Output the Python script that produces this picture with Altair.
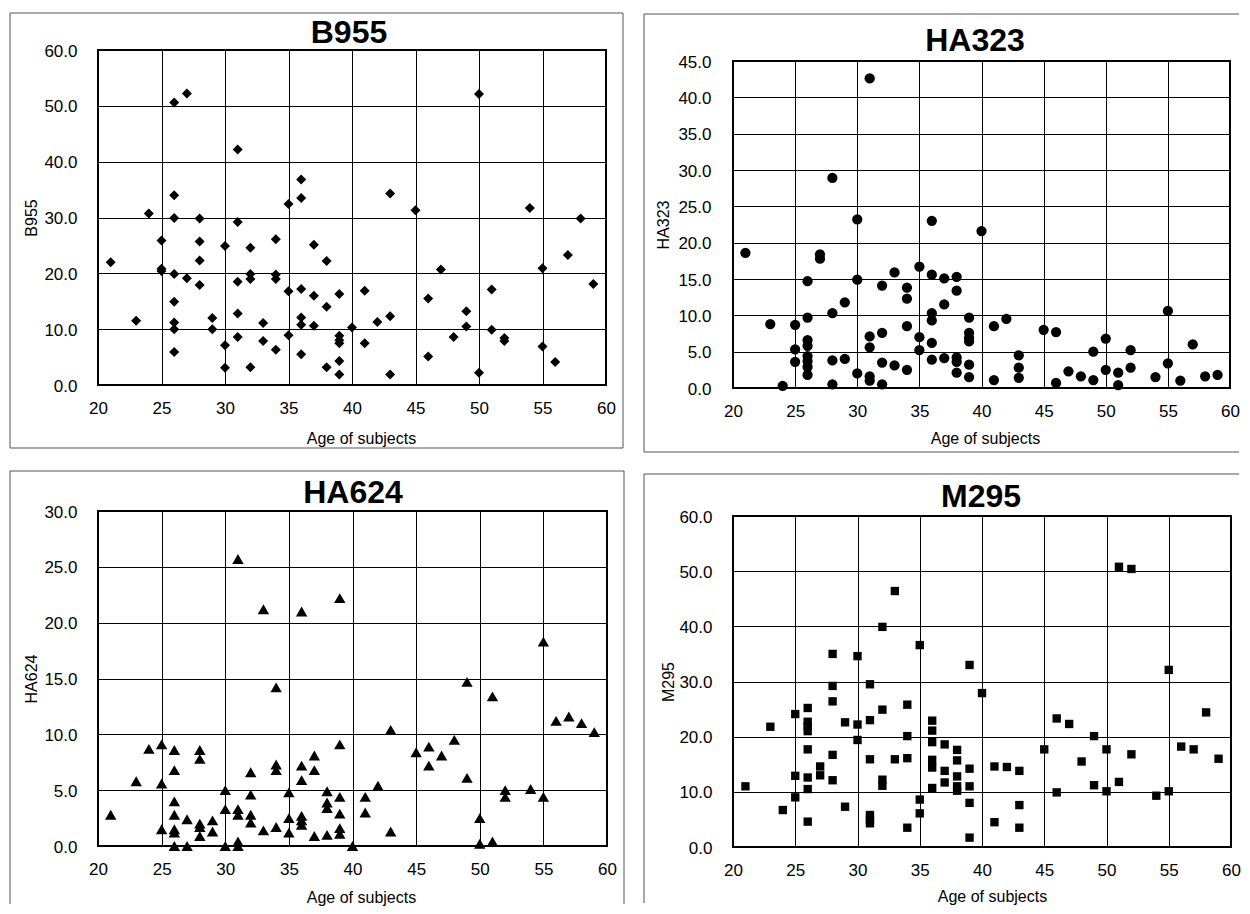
import altair as alt
import pandas as pd

X_TITLE = "Age of subjects"
X_TICKS = [20, 25, 30, 35, 40, 45, 50, 55, 60]

# ---------------- B955 ----------------
b955_age = [21, 23, 24, 25, 25, 25,
            26, 26, 26, 26, 26, 26, 26, 26,
            27, 27, 28, 28, 28, 28, 29, 29, 30, 30, 30,
            31, 31, 31, 31, 31, 32, 32, 32, 32, 33, 33,
            34, 34, 34, 34, 35, 35, 35,
            36, 36, 36, 36, 36, 36, 37, 37, 37, 38, 38, 38,
            39, 39, 39, 39, 39, 39, 40, 41, 41, 42, 43, 43, 43,
            45, 46, 46, 47, 48, 49, 49, 50, 50, 51, 51, 52, 52,
            54, 55, 55, 56, 57, 58, 59]
b955_val = [22.0, 11.5, 30.7, 25.9, 20.8, 20.4,
            50.6, 34.0, 29.9, 19.9, 14.9, 11.2, 10.0, 5.9,
            52.2, 19.1, 29.8, 25.7, 22.3, 17.9, 12.0, 10.0, 24.9, 7.1, 3.1,
            42.2, 29.2, 18.5, 12.8, 8.6, 24.6, 19.9, 19.0, 3.2, 11.1, 7.9,
            26.1, 19.8, 19.0, 6.3, 32.4, 16.8, 8.9,
            36.8, 33.5, 17.2, 12.1, 10.8, 5.5, 25.1, 16.0, 10.6, 22.2, 14.0, 3.2,
            16.3, 8.8, 8.0, 7.5, 4.3, 1.9, 10.3, 16.9, 7.5, 11.3, 34.3, 12.3, 1.9,
            31.3, 15.5, 5.1, 20.7, 8.6, 13.2, 10.5, 52.1, 2.2, 17.1, 9.9, 8.4, 7.9,
            31.7, 20.9, 6.9, 4.1, 23.3, 29.8, 18.1]

# ---------------- HA323 ----------------
ha323_age = [21, 23, 24, 25, 25, 25,
             26, 26, 26, 26, 26, 26, 26, 26,
             27, 27, 28, 28, 28, 28, 29, 29, 30, 30, 30,
             31, 31, 31, 31, 31, 32, 32, 32, 32, 33, 33,
             34, 34, 34, 34, 35, 35, 35,
             36, 36, 36, 36, 36, 36, 37, 37, 37,
             38, 38, 38, 38, 38, 39, 39, 39, 39, 39, 39,
             40, 41, 41, 42, 43, 43, 43, 45, 46, 46, 47, 48,
             49, 49, 50, 50, 51, 51, 52, 52, 54, 55, 55, 56, 57, 58, 59]
ha323_val = [18.6, 8.8, 0.3, 8.7, 5.3, 3.6,
             14.7, 9.7, 6.6, 5.8, 4.4, 3.7, 2.9, 1.8,
             18.4, 17.8, 28.9, 10.3, 3.8, 0.5, 11.8, 4.0, 23.2, 14.9, 2.0,
             42.6, 7.1, 5.6, 1.6, 1.0, 14.1, 7.6, 3.5, 0.5, 15.9, 3.1,
             13.8, 12.3, 8.5, 2.5, 16.7, 7.0, 5.2,
             23.0, 15.6, 10.3, 9.3, 6.2, 3.9, 15.1, 11.5, 4.1,
             15.3, 13.4, 4.2, 3.6, 2.1, 9.7, 7.6, 6.9, 6.4, 3.2, 1.5,
             21.6, 8.5, 1.1, 9.5, 4.5, 2.8, 1.4, 8.0, 7.7, 0.7, 2.3, 1.6,
             5.0, 1.1, 6.8, 2.5, 2.1, 0.4, 5.2, 2.8, 1.5, 10.6, 3.4, 1.0, 6.0, 1.6, 1.8]

# ---------------- HA624 ----------------
ha624_age = [21, 23, 24, 25, 25, 25,
             26, 26, 26, 26, 26, 26, 26, 27, 27,
             28, 28, 28, 28, 28, 29, 29, 30, 30, 30,
             31, 31, 31, 31, 31, 32, 32, 32, 32, 33, 33,
             34, 34, 34, 34, 35, 35, 35,
             36, 36, 36, 36, 36, 36, 37, 37, 37, 38, 38, 38, 38,
             39, 39, 39, 39, 39, 39, 40, 41, 41, 42, 43, 43,
             45, 46, 46, 47, 48, 49, 49, 50, 50, 51, 51, 52, 52,
             54, 55, 55, 56, 57, 58, 59]
ha624_val = [2.8, 5.8, 8.7, 9.1, 5.6, 1.5,
             8.6, 6.8, 4.0, 2.8, 1.5, 1.2, 0.0, 2.4, 0.0,
             8.6, 7.8, 2.0, 1.7, 0.9, 2.3, 1.3, 5.0, 3.3, 0.0,
             25.7, 3.3, 2.8, 0.4, 0.0, 6.6, 4.6, 2.8, 2.1, 21.2, 1.4,
             14.2, 7.3, 6.8, 1.7, 4.8, 2.5, 1.2,
             21.0, 7.2, 5.9, 2.7, 2.3, 1.9, 8.1, 6.8, 0.9, 4.9, 3.9, 3.4, 1.0,
             22.2, 9.1, 4.4, 2.9, 1.6, 1.1, 0.0, 4.4, 3.0, 5.4, 10.4, 1.3,
             8.4, 8.9, 7.2, 8.1, 9.5, 14.7, 6.1, 2.5, 0.2, 13.4, 0.4, 5.0, 4.4,
             5.1, 18.3, 4.4, 11.2, 11.6, 11.0, 10.2]

# ---------------- M295 ----------------
m295_age = [21, 23, 24, 25, 25, 25,
            26, 26, 26, 26, 26, 26, 26, 26, 27, 27,
            28, 28, 28, 28, 28, 29, 29, 30, 30, 30,
            31, 31, 31, 31, 31, 31, 32, 32, 32, 32, 33, 33,
            34, 34, 34, 34, 35, 35, 35,
            36, 36, 36, 36, 36, 36, 37, 37, 37, 38, 38, 38, 38, 38,
            39, 39, 39, 39, 39, 40, 41, 41, 42, 43, 43, 43,
            45, 46, 46, 47, 48, 49, 49, 50, 50, 51, 51, 52, 52,
            54, 55, 55, 56, 57, 58, 59]
m295_val = [11.0, 21.8, 6.7, 24.1, 12.9, 9.0,
            25.2, 22.7, 21.9, 21.0, 17.7, 12.6, 10.5, 4.6, 14.6, 13.0,
            35.0, 29.2, 26.4, 16.7, 12.1, 22.6, 7.3, 34.6, 22.2, 19.4,
            29.5, 23.0, 15.9, 5.8, 5.0, 4.3, 39.9, 24.9, 12.2, 11.1, 46.4, 15.9,
            25.8, 20.1, 16.1, 3.5, 36.6, 8.6, 6.1,
            22.9, 21.1, 19.0, 15.8, 14.4, 10.7, 18.6, 13.8, 11.7, 17.6, 15.7, 12.8, 11.0, 10.2,
            33.0, 14.2, 11.0, 8.0, 1.7, 27.9, 14.6, 4.5, 14.5, 13.8, 7.6, 3.5,
            17.7, 23.3, 9.9, 22.3, 15.5, 20.1, 11.2, 17.7, 10.1, 50.8, 11.8, 50.4, 16.8,
            9.3, 32.1, 10.1, 18.2, 17.7, 24.4, 16.0]

FRAME = "#555555"
ONE = pd.DataFrame({"k": [0]})


def seg(x1, y1, x2, y2):
    return alt.Chart(ONE).mark_rule(color=FRAME, strokeWidth=1).encode(
        x=alt.value(x1), x2=alt.value(x2), y=alt.value(y1), y2=alt.value(y2))


def spacer(h):
    return alt.Chart(ONE).mark_point(size=0, opacity=0, strokeWidth=0, filled=True).encode(
        x=alt.value(0), y=alt.value(0)
    ).properties(width=1, height=h,
                 view=alt.ViewBackground(fill="transparent", stroke="transparent"))


def panel(name, ages, vals, shape, size, ymax, ystep, g):
    W, H = g["W"], g["H"]
    L, T, R, B = g["frame"]
    df = pd.DataFrame({"age": ages, "val": vals})
    yvals = [i * ystep for i in range(int(round(ymax / ystep)) + 1)]
    layers = []
    x1, x2, y1, y2 = -L, W + R, -T, H + B
    if "l" in g["sides"]:
        layers.append(seg(x1, y1, x1, y2))
    if "t" in g["sides"]:
        layers.append(seg(x1, y1, x2, y1))
    if "r" in g["sides"]:
        layers.append(seg(x2, y1, x2, y2))
    if "b" in g["sides"]:
        layers.append(seg(x1, y2, x2, y2))

    pts = alt.Chart(df).mark_point(shape=shape, filled=True, size=size, color="black",
                                   opacity=1, strokeWidth=0).encode(
        x=alt.X("age:Q", scale=alt.Scale(domain=[20, 60], nice=False, zero=False),
                axis=alt.Axis(values=X_TICKS, format="d", title=X_TITLE,
                              grid=True, gridColor="black", gridWidth=1, gridOpacity=1,
                              domain=False, ticks=False, tickSize=0,
                              labelFlush=False, labelPadding=g["xlp"], labelFontSize=17,
                              labelColor="black", titleFontSize=16, titleFontWeight="normal",
                              titleColor="black", minExtent=31, maxExtent=31,
                              titlePadding=g["xto"] - 31, titleX=g["xtx"])),
        y=alt.Y("val:Q", scale=alt.Scale(domain=[0, ymax], nice=False, zero=True),
                axis=alt.Axis(values=yvals, format=".1f", title=name,
                              grid=True, gridColor="black", gridWidth=1, gridOpacity=1,
                              domain=False, ticks=False, tickSize=0,
                              labelPadding=g["ylp"], labelFontSize=17, labelColor="black",
                              labelOffset=1,
                              titleFontSize=16, titleFontWeight="normal", titleColor="black",
                              minExtent=g["yto"] - 8, maxExtent=g["yto"] - 8, titlePadding=8)),
    )
    layers.append(pts)
    tx, ty = g["title"]
    layers.append(alt.Chart(ONE).mark_text(fontSize=32, fontWeight="bold", color="black",
                                           align="center", baseline="middle").encode(
        x=alt.value(tx), y=alt.value(ty - 10), text=alt.value(name)))
    return alt.layer(*layers).properties(width=W, height=H)


g1 = dict(W=508, H=335, frame=(88, 37, 17, 63), sides="ltrb", yto=59, ylp=21,
          xlp=15, xto=45, xtx=263, title=(251, -7))
g3 = dict(W=509, H=335, frame=(88, 40, 17, 58), sides="ltr", yto=59, ylp=21,
          xlp=15, xto=43, xtx=263, title=(255, -8))
g2 = dict(W=497, H=327, frame=(89, 47, 9, 64), sides="ltb", yto=62, ylp=22,
          xlp=15, xto=42, xtx=252, title=(242, -10))
g4 = dict(W=498, H=331, frame=(89, 42, 8, 56), sides="lt", yto=57, ylp=21,
          xlp=15, xto=41, xtx=259, title=(248, -9))

p1 = panel("B955", b955_age, b955_val, "diamond", 100, 60, 10, g1)
p2 = panel("HA323", ha323_age, ha323_val, "circle", 105, 45, 5, g2)
p3 = panel("HA624", ha624_age, ha624_val, "triangle-up", 130, 30, 5, g3)
p4 = panel("M295", m295_age, m295_val, "square", 70, 60, 10, g4)

col1 = alt.vconcat(alt.vconcat(spacer(1), p1, spacing=0), p3, spacing=19)
col2 = alt.vconcat(alt.vconcat(spacer(2), p2, spacing=0), p4, spacing=18)

chart = alt.hconcat(col1, col2, spacing=16).properties(
    padding={"left": 0, "top": 0, "right": 0, "bottom": 0}
).configure(font="Liberation Sans").configure_view(stroke="black", strokeWidth=2)

chart.save("out.html", embed_options={"renderer": "svg", "actions": False})
